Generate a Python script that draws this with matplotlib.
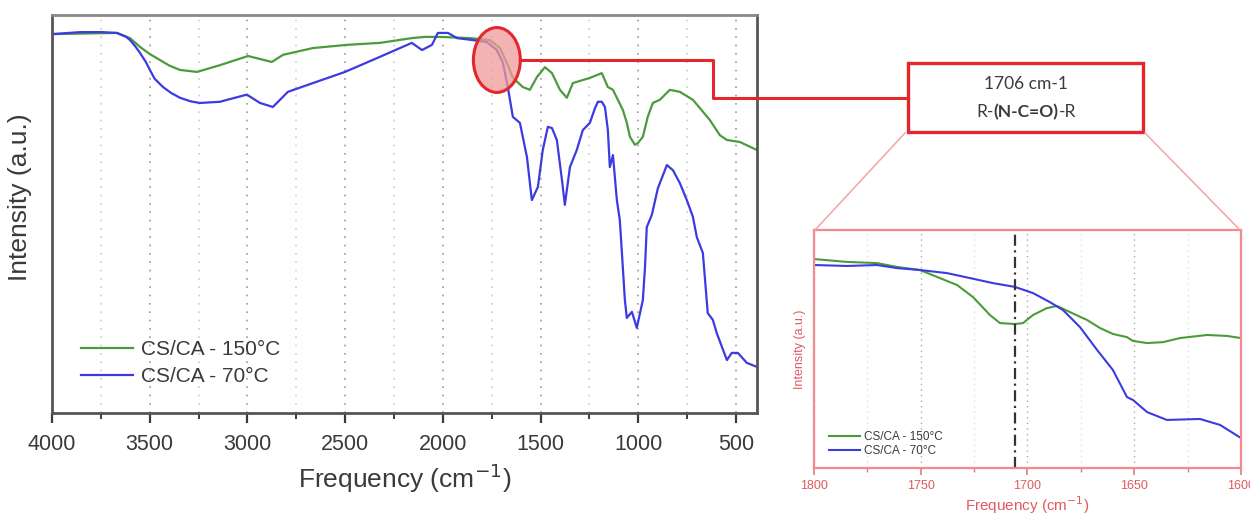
import numpy as np
import matplotlib
matplotlib.use("Agg")
import matplotlib.pyplot as plt
from matplotlib.patches import Ellipse, Rectangle
from matplotlib.lines import Line2D
from matplotlib.ticker import MultipleLocator
from matplotlib.offsetbox import TextArea, HPacker, AnnotationBbox

# --- main spectrum (arbitrary intensity 0-100) ---
freq_70 = [4000, 3857, 3744, 3668, 3620, 3601, 3575, 3550, 3520, 3499, 3475, 3432,
           3390, 3345, 3290, 3243, 3141, 3003, 2936, 2870, 2793, 2665, 2501, 2322,
           2159, 2107, 2056, 2026, 1974, 1928, 1847, 1775, 1724, 1693, 1668, 1642,
           1606, 1570, 1545, 1514, 1489, 1463, 1442, 1417, 1391, 1376, 1361, 1350,
           1315, 1284, 1248, 1222, 1207, 1187, 1171, 1156, 1146, 1130, 1110, 1095,
           1085, 1069, 1059, 1033, 1008, 977, 966, 957, 931, 900, 854, 823, 788, 752,
           721, 701, 670, 645, 619, 599, 547, 522, 491, 445, 394]
int_70 = [95.2, 95.7, 95.7, 95.5, 94.5, 93.7, 92.2, 90.5, 88.2, 86.2, 84.0, 81.9,
          80.4, 79.2, 78.3, 77.9, 78.2, 80.0, 77.9, 76.9, 80.7, 82.9, 85.7, 89.5,
          93.0, 91.2, 92.5, 95.5, 95.5, 94.2, 93.7, 93.2, 91.2, 88.0, 81.9, 74.4,
          72.9, 64.3, 53.5, 56.8, 66.1, 71.9, 71.6, 68.6, 58.6, 52.3, 57.8, 61.8,
          66.1, 71.1, 72.9, 76.6, 78.2, 78.2, 76.9, 71.1, 61.8, 64.8, 53.5, 48.5,
          40.9, 28.4, 23.9, 25.4, 21.4, 28.4, 36.7, 46.7, 49.8, 56.5, 62.3, 61.0, 57.8, 53.5,
          49.3, 44.2, 40.2, 25.1, 23.4, 20.1, 13.3, 15.1, 15.1, 12.6, 11.6]

freq_150 = [4000, 3668, 3601, 3550, 3500, 3448, 3400, 3345, 3258, 3141, 2997, 2875,
            2818, 2665, 2491, 2322, 2159, 2092, 2015, 1862, 1760, 1708, 1668, 1642,
            1591, 1555, 1519, 1478, 1442, 1401, 1366, 1335, 1248, 1187, 1156, 1130,
            1079, 1059, 1043, 1018, 1003, 977, 952, 926, 890, 839, 788, 721, 685,
            634, 583, 547, 481, 394]
int_150 = [95.2, 95.5, 94.2, 92.0, 90.2, 88.7, 87.3, 86.2, 85.7, 87.4, 89.7, 88.2,
           90.0, 91.7, 92.5, 93.0, 94.2, 94.5, 94.5, 94.2, 93.7, 91.7, 87.4, 84.2,
           81.9, 81.2, 84.4, 86.9, 85.4, 81.2, 79.2, 82.9, 84.2, 85.4, 81.9, 81.2,
           76.1, 72.9, 69.4, 67.4, 67.8, 69.4, 74.4, 77.9, 78.7, 81.2, 80.7, 78.7, 76.6,
           73.6, 69.8, 68.6, 68.1, 66.1]

# --- zoomed region 1800-1600 cm-1 ---
zfreq_150 = [1800, 1784.5, 1770.5, 1761.1, 1750.4, 1742.4, 1733.0, 1725.5, 1717.6,
             1712.9, 1705.9, 1702.1, 1697.4, 1690.9, 1686.2, 1680.1, 1672.1, 1666.0,
             1659.9, 1653.4, 1650.6, 1644.0, 1636.5, 1628.6, 1615.9, 1606.6, 1600]
zint_150 = [87.8, 86.6, 86.1, 84.5, 83.2, 80.3, 76.9, 71.8, 64.3, 60.9, 60.5, 60.9,
            64.3, 67.2, 68.1, 65.5, 62.2, 58.8, 56.3, 55.0, 53.4, 52.5, 52.9, 54.6,
            55.9, 55.5, 54.6]
zfreq_70 = [1800, 1784.5, 1770.5, 1761.1, 1750.4, 1737.7, 1726.9, 1716.2, 1705.9,
            1697.4, 1689.5, 1683.4, 1675.4, 1667.4, 1660.0, 1653.4, 1650.6, 1644.0,
            1634.7, 1619.2, 1609.8, 1600]
zint_70 = [85.3, 84.9, 85.3, 84.0, 83.2, 81.9, 79.8, 77.7, 76.1, 73.5, 69.7, 66.4,
           59.2, 49.6, 41.2, 29.8, 28.6, 23.5, 20.2, 20.6, 18.1, 12.6]

peak = 1706
peak_label = "1706 cm-1"
group_parts = ["R-", "(N-C=O)", "-R"]
labels = ["CS/CA - 150°C", "CS/CA - 70°C"]

green = "#4b9b3c"
blue = "#3b3be0"
red = "#e5262c"
pink = "#e8787c"
dark = "#3a3a3a"

plt.rcParams["font.family"] = ["Liberation Sans", "DejaVu Sans"]

fig = plt.figure(figsize=(12.5, 5.16), dpi=100)

# main axes
ax = fig.add_axes([0.0416, 0.1996, 0.564, 0.7713])
ax.plot(freq_150, int_150, color=green, lw=1.6, label=labels[0])
ax.plot(freq_70, int_70, color=blue, lw=1.6, label=labels[1])
ax.set_xlim(4000, 393)
ax.set_ylim(0, 100)
ax.xaxis.set_major_locator(MultipleLocator(500))
ax.xaxis.set_minor_locator(MultipleLocator(250))
ax.set_yticks([])
ax.grid(axis="x", which="major", color="#999999", ls=(0, (1, 4)), lw=1.2)
ax.grid(axis="x", which="minor", color="#cccccc", ls=(0, (1, 4)), lw=1.2)
ax.tick_params(axis="x", which="major", direction="out", length=7, width=1.6,
               labelsize=15.5, colors=dark, pad=8)
ax.tick_params(axis="x", which="minor", direction="out", length=4, width=1.4, colors=dark)
for s in ax.spines.values():
    s.set_color("#555555")
    s.set_linewidth(2)
ax.spines["top"].set_color("#888888")
ax.set_xlabel("Frequency (cm$^{-1}$)", fontsize=19, color=dark, labelpad=5)
ax.set_ylabel("Intensity (a.u.)", fontsize=19, color=dark)
ax.yaxis.set_label_coords(-0.0284, 0.543)
ax.legend(loc="lower left", bbox_to_anchor=(0.015, 0.02), frameon=False, fontsize=15,
          handlelength=2.5, handletextpad=0.35, labelspacing=0.4, labelcolor=dark)

# highlight circle on the 1706 band
ax.add_patch(Ellipse((1724, 88.7), width=240, height=16.3, facecolor="#f09a9a",
                     alpha=0.75, edgecolor="none", zorder=5))
ax.add_patch(Ellipse((1724, 88.7), width=240, height=16.3, facecolor="none",
                     edgecolor=red, lw=2.2, zorder=6))

# connector to the label box (figure pixels)
W, H = 1250, 516
def fp(x, y):
    return x / W, 1 - y / H

xs, ys = zip(fp(520, 60), fp(713, 60), fp(713, 98), fp(908, 98))
fig.add_artist(Line2D(xs, ys, color=red, lw=2.2, transform=fig.transFigure))

x0, y0 = fp(908, 132)
fig.add_artist(Rectangle((x0, y0), 235 / W, 69 / H, transform=fig.transFigure,
                         facecolor="white", edgecolor=red, lw=2.4))
box_font = ["Lato", "DejaVu Sans"]
tx, ty = fp(1026, 84)
fig.text(tx, ty, peak_label, ha="center", va="center", fontsize=12.5,
         family=box_font, color=dark)
parts = [TextArea(group_parts[0], textprops=dict(fontsize=12.5, family=box_font, color=dark)),
         TextArea(group_parts[1], textprops=dict(fontsize=12.5, family=box_font, color=dark,
                                                 weight="bold")),
         TextArea(group_parts[2], textprops=dict(fontsize=12.5, family=box_font, color=dark))]
pack = HPacker(children=parts, sep=0, pad=0, align="baseline")
fig.add_artist(AnnotationBbox(pack, fp(1026, 112), xycoords="figure fraction",
                              frameon=False, box_alignment=(0.5, 0.5)))

# zoom lines from box to inset
for a, b in [((905, 133), (815, 230)), ((1145, 133), (1240, 230))]:
    xs, ys = zip(fp(*a), fp(*b))
    fig.add_artist(Line2D(xs, ys, color="#f2a4a6", lw=1.1, transform=fig.transFigure))

# inset axes
axz = fig.add_axes([0.6512, 0.093, 0.3416, 0.4612])
axz.plot(zfreq_150, zint_150, color=green, lw=1.5, label=labels[0])
axz.plot(zfreq_70, zint_70, color=blue, lw=1.5, label=labels[1])
axz.axvline(peak, color="#333333", ls=(0, (5, 2, 1, 2)), lw=1.6)
axz.set_xlim(1800, 1600)
axz.set_ylim(0, 100)
axz.xaxis.set_major_locator(MultipleLocator(50))
axz.xaxis.set_minor_locator(MultipleLocator(25))
axz.set_yticks([])
axz.grid(axis="x", which="major", color="#aaaaaa", ls=(0, (1, 3)), lw=1.0)
axz.grid(axis="x", which="minor", color="#dddddd", ls=(0, (1, 3)), lw=1.0)
axz.tick_params(axis="x", which="major", direction="out", length=5, width=1.2,
                colors=pink, labelsize=9, labelcolor="#e05a5e")
axz.tick_params(axis="x", which="minor", direction="out", length=3, width=1.0, colors=pink)
for s in axz.spines.values():
    s.set_color("#f08a8e")
    s.set_linewidth(1.6)
axz.set_xlabel("Frequency (cm$^{-1}$)", fontsize=11, color="#e05a5e", labelpad=2)
axz.set_ylabel("Intensity (a.u.)", fontsize=9, color="#e05a5e", labelpad=6)
axz.legend(loc="lower left", bbox_to_anchor=(0.01, 0.0), frameon=False, fontsize=8.5,
           handlelength=2.6, handletextpad=0.4, labelspacing=0.2, labelcolor=dark)

fig.savefig("out.png", dpi=100, facecolor="white")
